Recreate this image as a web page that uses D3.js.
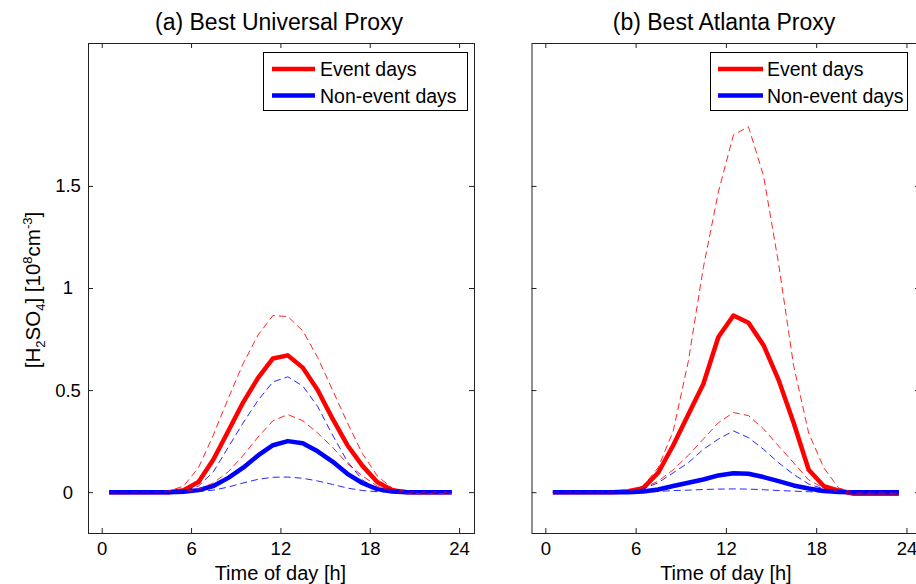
<!DOCTYPE html>
<html>
<head>
<meta charset="utf-8">
<script src="https://cdn.jsdelivr.net/npm/d3@7"></script>
<style>
  body { margin: 0; background: #fff; }
  svg { display: block; font-family: "Liberation Sans", Arial, sans-serif; }
</style>
</head>
<body>
<svg id="chart" width="916" height="584"></svg>
<script>
// --- data (10^8 cm^-3), hourly means at h + 0.5 ---
const hours = [0.5, 1.5, 2.5, 3.5, 4.5, 5.5, 6.5, 7.5, 8.5, 9.5, 10.5, 11.5,
               12.5, 13.5, 14.5, 15.5, 16.5, 17.5, 18.5, 19.5, 20.5, 21.5, 22.5, 23.5];
const xTicks = [0, 6, 12, 18, 24];
const yTicks = [0, 0.5, 1, 1.5];
const legendLabels = ["Event days", "Non-event days"];
const titles = ["(a) Best Universal Proxy", "(b) Best Atlanta Proxy"];

// (a) universal proxy
const uniEventMean = [0, 0, 0, 0, 0, 0.01, 0.05, 0.16, 0.30, 0.44, 0.56, 0.655, 0.67, 0.61, 0.50, 0.36, 0.23, 0.13, 0.05, 0.01, 0, 0, 0, 0];
const uniEventHigh = [0, 0, 0, 0, 0.005, 0.03, 0.12, 0.28, 0.46, 0.63, 0.77, 0.865, 0.86, 0.79, 0.66, 0.50, 0.34, 0.19, 0.08, 0.02, 0, 0, 0, 0];
const uniEventLow  = [0, 0, 0, 0, 0, 0.003, 0.015, 0.045, 0.10, 0.18, 0.27, 0.35, 0.38, 0.35, 0.29, 0.22, 0.14, 0.08, 0.03, 0.005, -0.005, -0.008, -0.008, -0.006];
const uniNonMean   = [0, 0, 0, 0, 0, 0.002, 0.01, 0.03, 0.07, 0.12, 0.18, 0.23, 0.25, 0.24, 0.20, 0.15, 0.09, 0.045, 0.015, 0.003, 0, 0, 0, 0];
const uniNonHigh   = [0, 0, 0, 0, 0, 0.005, 0.03, 0.10, 0.22, 0.34, 0.45, 0.54, 0.565, 0.52, 0.42, 0.28, 0.15, 0.06, 0.015, 0.003, 0, 0, 0, 0];
const uniNonLow    = [0, 0, 0, 0, 0, 0, 0.003, 0.01, 0.025, 0.045, 0.063, 0.073, 0.074, 0.068, 0.055, 0.038, 0.02, 0.008, 0.002, 0, 0, 0, 0, 0];

// (b) atlanta proxy
const atlEventMean = [0, 0, 0, 0, 0, 0.005, 0.02, 0.095, 0.23, 0.38, 0.53, 0.76, 0.865, 0.83, 0.72, 0.55, 0.34, 0.11, 0.03, 0.008, -0.008, -0.008, -0.008, -0.008];
const atlEventHigh = [0, 0, 0, 0, 0, 0.005, 0.03, 0.12, 0.30, 0.64, 1.10, 1.47, 1.75, 1.79, 1.55, 1.12, 0.62, 0.29, 0.12, 0.02, 0, 0, 0, 0];
const atlEventLow  = [0, 0, 0, 0, 0, 0.005, 0.02, 0.054, 0.11, 0.18, 0.26, 0.34, 0.39, 0.375, 0.31, 0.226, 0.144, 0.06, 0.02, 0.003, -0.005, -0.005, -0.005, -0.005];
const atlNonMean   = [0, 0, 0, 0, 0, 0, 0.003, 0.013, 0.03, 0.046, 0.062, 0.082, 0.093, 0.09, 0.074, 0.054, 0.033, 0.018, 0.006, 0.001, 0, 0, 0, 0];
const atlNonHigh   = [0, 0, 0, 0, 0, 0.003, 0.016, 0.046, 0.095, 0.144, 0.21, 0.26, 0.30, 0.267, 0.21, 0.144, 0.087, 0.04, 0.016, 0.003, 0, 0, 0, 0];
const atlNonLow    = [0, 0, 0, 0, 0, 0, 0, 0.003, 0.008, 0.01, 0.013, 0.015, 0.016, 0.015, 0.012, 0.008, 0.005, 0.002, 0, 0, 0, 0, 0, 0];

const RED = "#ff0000", BLUE = "#0000ff";

const panels = [
  { title: titles[0], left: 88, right: 474, xMax: 25, titleX: 279, labels: true,
    mean: [uniEventMean, uniNonMean], band: [uniEventHigh, uniEventLow, uniNonHigh, uniNonLow],
    legend: { x0: 263.5, x1: 467.5, line0: 272, line1: 315, text: 320 } },
  { title: titles[1], left: 531.5, right: 920, xMax: 24.9, titleX: 724, labels: false,
    mean: [atlEventMean, atlNonMean], band: [atlEventHigh, atlEventLow, atlNonHigh, atlNonLow],
    legend: { x0: 710.5, x1: 907.5, line0: 718, line1: 763, text: 767 } }
];

const plotTop = 43, plotBottom = 533;
const svg = d3.select("#chart");

const y = d3.scaleLinear().domain([-0.2, 2.2]).range([plotBottom, plotTop]);

panels.forEach(p => {
  const x = d3.scaleLinear().domain([-0.92, p.xMax]).range([p.left, p.right]);
  const g = svg.append("g");

  // axes: ticks inside on all four sides, MATLAB style
  const bx = g.append("g").attr("transform", `translate(0,${plotBottom})`)
    .call(d3.axisBottom(x).tickValues(xTicks).tickSizeInner(-5).tickSizeOuter(0).tickPadding(9));
  g.append("g").attr("transform", `translate(0,${plotTop})`)
    .call(d3.axisTop(x).tickValues(xTicks).tickSizeInner(-5).tickSizeOuter(0).tickFormat(""));
  const ly = g.append("g").attr("transform", `translate(${p.left},0)`)
    .call(d3.axisLeft(y).tickValues(yTicks).tickSizeInner(-5).tickSizeOuter(0)
      .tickFormat(d => p.labels ? String(d) : ""));
  g.append("g").attr("transform", `translate(${p.right},0)`)
    .call(d3.axisRight(y).tickValues(yTicks).tickSizeInner(-5).tickSizeOuter(0).tickFormat(""));

  g.selectAll(".domain").remove();
  g.selectAll(".tick line").attr("stroke", "#222");
  bx.selectAll("text").attr("font-size", 18.5).attr("fill", "#000")
    .attr("font-family", "Liberation Sans, Arial, sans-serif");
  ly.selectAll("text").attr("font-size", 18.5).attr("fill", "#000")
    .attr("font-family", "Liberation Sans, Arial, sans-serif")
    .attr("text-anchor", "middle").attr("x", -20);

  g.append("rect")
    .attr("x", p.left + 0.5).attr("y", plotTop + 0.5)
    .attr("width", p.right - p.left).attr("height", plotBottom - plotTop)
    .attr("fill", "none").attr("stroke", "#222").attr("stroke-width", 1);

  const line = d3.line().x((d, i) => x(hours[i])).y(d => y(d));

  // thick mean curves
  p.mean.forEach((s, k) => {
    g.append("path").datum(s)
      .attr("d", line)
      .attr("fill", "none")
      .attr("stroke", k === 0 ? RED : BLUE)
      .attr("stroke-width", 4.5)
      .attr("stroke-linejoin", "round");
  });

  // thin dashed spread curves
  p.band.forEach((s, k) => {
    g.append("path").datum(s)
      .attr("d", line)
      .attr("fill", "none")
      .attr("stroke", k < 2 ? RED : BLUE)
      .attr("stroke-opacity", 0.85)
      .attr("stroke-width", 1)
      .attr("stroke-dasharray", "7,4");
  });

  // title
  g.append("text")
    .attr("x", p.titleX)
    .attr("y", 30)
    .attr("text-anchor", "middle")
    .attr("font-size", 23)
    .text(p.title);

  // x label
  g.append("text")
    .attr("x", x(12))
    .attr("y", 580)
    .attr("text-anchor", "middle")
    .attr("font-size", 20)
    .text("Time of day [h]");

  // legend
  const L = p.legend;
  const lg = g.append("g");
  lg.append("rect")
    .attr("x", L.x0).attr("y", 52.5)
    .attr("width", L.x1 - L.x0).attr("height", 58)
    .attr("fill", "#fff").attr("stroke", "#000").attr("stroke-width", 1);
  legendLabels.forEach((lab, k) => {
    const ly0 = k === 0 ? 69 : 95.5;
    lg.append("line")
      .attr("x1", L.line0).attr("x2", L.line1)
      .attr("y1", ly0).attr("y2", ly0)
      .attr("stroke", k === 0 ? RED : BLUE).attr("stroke-width", 4.5);
    lg.append("text")
      .attr("x", L.text).attr("y", ly0 + 7)
      .attr("font-size", 19.5)
      .text(lab);
  });
});

// y label
const yl = svg.append("text")
  .attr("transform", "translate(40,290) rotate(-90)")
  .attr("text-anchor", "middle")
  .attr("font-size", 20.5);
yl.append("tspan").text("[H");
yl.append("tspan").attr("font-size", 13).attr("dy", 5).text("2");
yl.append("tspan").attr("dy", -5).text("SO");
yl.append("tspan").attr("font-size", 13).attr("dy", 5).text("4");
yl.append("tspan").attr("dy", -5).text("] [10");
yl.append("tspan").attr("font-size", 13).attr("dy", -8).text("8");
yl.append("tspan").attr("dy", 8).text("cm");
yl.append("tspan").attr("font-size", 13).attr("dy", -8).text("-3");
yl.append("tspan").attr("dy", 8).text("]");
</script>
</body>
</html>
